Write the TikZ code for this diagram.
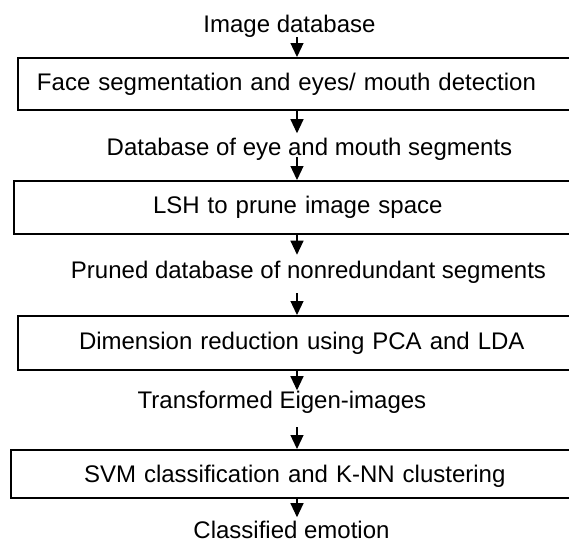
\documentclass[tikz,border=0pt]{standalone}
\usepackage{fontspec}
\setmainfont{Liberation Sans}
\usetikzlibrary{arrows.meta}
\tikzset{
  etiqueta/.style={inner sep=0pt, anchor=base},
  etapa/.style={draw, line width=1pt, anchor=north west, text width=12cm, align=left, inner ysep=0pt},
  flujo/.style={line width=0.6pt, -{Triangle[length=7pt,width=6.5pt]}}
}
\begin{document}
\begin{tikzpicture}[x=0.5pt, y=-0.5pt, font=\fontsize{12}{14}\selectfont]
            % Marco de la figura
            \clip (0,0) rectangle (569,542);
            \coordinate (eje) at (297,0);

            % Entrada
            \node[etiqueta] (img) at (289.5,32) {Image database};

            % Etapa 1: segmentacion
            \node[etapa, minimum height=26pt, inner xsep=9.5pt] (face) at (17,57) {Face segmentation and eyes/ mouth detection};

            % Segmentos
            \node[etiqueta] (segs) at (309.5,155) {Database of eye and mouth segments};

            % Etapa 2: LSH
            \node[etapa, minimum height=26.5pt, inner xsep=69.5pt] (lsh) at (13,180) {LSH to prune image space};

            % Base podada
            \node[etiqueta] (pruned) at (308.5,278) {Pruned database of nonredundant segments};

            % Etapa 3: PCA y LDA
            \node[etapa, minimum height=27pt, inner xsep=30.5pt] (pca) at (17,315) {Dimension reduction using PCA and LDA};

            % Eigen-imagenes
            \node[etiqueta] (eigen) at (282,408) {Transformed Eigen-images};

            % Etapa 4: SVM y K-NN
            \node[etapa, minimum height=24pt, inner xsep=36.5pt, text depth=0pt] (svm) at (10,449) {SVM classification and K-NN clustering};

            % Salida
            \node[etiqueta] (emo) at (291.5,538) {Classified emotion};

            % Flechas
            \draw[flujo] (img.south -| eje) -- (face.north -| eje);
            \draw[flujo, shorten >=2pt] (face.south -| eje) -- (segs.north -| eje);
            \draw[flujo, shorten <=1pt] (segs.base -| eje) -- (lsh.north -| eje);
            \draw[flujo, shorten >=2.75pt] (lsh.south -| eje) -- (pruned.north -| eje);
            \draw[flujo, shorten <=5pt] (pruned.south -| eje) -- (pca.north -| eje);
            \draw[flujo] (pca.south -| eje) -- (eigen.north -| eje);
            \draw[flujo, shorten <=7pt] (eigen.south -| eje) -- (svm.north -| eje);
            \draw[flujo, shorten >=1.5pt] (svm.south -| eje) -- (emo.north -| eje);

\end{tikzpicture}
\end{document}
